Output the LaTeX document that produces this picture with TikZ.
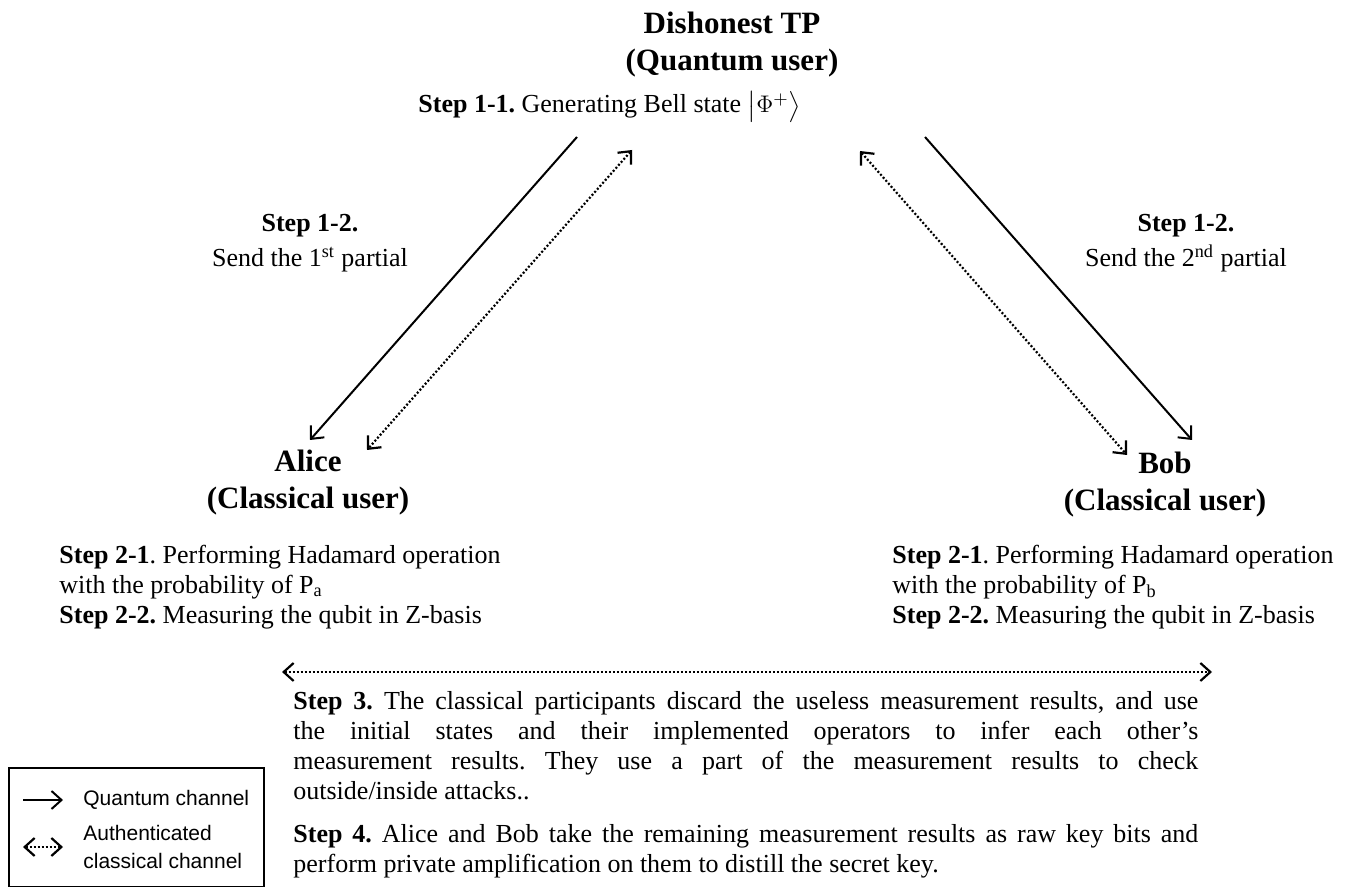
\documentclass[tikz,border=0pt]{standalone}
\usepackage{fontspec}
\setmainfont{Liberation Serif}
\newfontfamily\legendfont{Liberation Sans}
\usepackage{amssymb,amsmath}
\usetikzlibrary{arrows.meta}
\frenchspacing

\begin{document}
\begin{tikzpicture}
[x=0.5pt,y=-0.5pt,
quan/.style={-{Straight Barb[length=5pt,width=9pt]},draw=black,line width=1pt},
clas/.style={{Straight Barb[length=5pt,width=9pt]}-{Straight Barb[length=5pt,width=9pt]},draw=black,line width=1.1pt,dash pattern=on 1pt off 1pt},
party/.style={align=center,font=\fontsize{15.5}{18.5}\selectfont\bfseries,inner sep=0pt},
desc/.style={align=left,font=\fontsize{13}{15}\selectfont,inner sep=0pt},
lbl/.style={align=center,font=\fontsize{13}{17.5}\selectfont,inner sep=0pt},
leg/.style={align=left,font=\legendfont\fontsize{10.5}{14}\selectfont,inner sep=0pt}]

\useasboundingbox (0,0) rectangle (1365,887);

\node at (732,45)  [party] (tp)    {Dishonest TP\\(Quantum user)};
\node at (418,107) [desc,anchor=west] (gen) {\textbf{Step 1-1.} Generating Bell state $\bigl|\Phi^{+}\bigr\rangle$};
\node at (310,243) [lbl] (snda)    {\textbf{Step 1-2.}\\Send the 1\textsuperscript{st} partial};
\node at (1186,243) [lbl] (sndb)   {\textbf{Step 1-2.}\\Send the 2\textsuperscript{nd} partial};
\node at (308,483) [party] (alice) {Alice\\(Classical user)};
\node at (1165,485) [party] (bob)  {Bob\\(Classical user)};
\node at (59,587)  [desc,anchor=west] (opa) {\textbf{Step 2-1}. Performing Hadamard operation\\with the probability of P\textsubscript{a}\\\textbf{Step 2-2.} Measuring the qubit in Z-basis};
\node at (892,587) [desc,anchor=west] (opb) {\textbf{Step 2-1}. Performing Hadamard operation\\with the probability of P\textsubscript{b}\\\textbf{Step 2-2.} Measuring the qubit in Z-basis};

\coordinate (qa0) at (577,137);
\coordinate (qa1) at (310,440);
\coordinate (ca0) at (632,150);
\coordinate (ca1) at (367,450);
\coordinate (cb0) at (860,151);
\coordinate (cb1) at (1127,455);
\coordinate (qb0) at (925,137);
\coordinate (qb1) at (1192,440);
\draw [quan] (qa0) to (qa1);
\draw [clas] (ca0) to (ca1);
\draw [clas] (cb0) to (cb1);
\draw [quan] (qb0) to (qb1);

\coordinate (hl) at (282,672);
\coordinate (hr) at (1212,672);
\draw [clas] (hl) to (hr);

\node at (293,691) [anchor=north west,text width=452.5pt,align=justify,font=\fontsize{13}{15}\selectfont,inner sep=0pt] (chk)
 {\textbf{Step 3.} The classical participants discard the useless measurement results, and use\linebreak
 the initial states and their implemented operators to infer each other’s\linebreak
 measurement results. They use a part of the measurement results to check\linebreak
 outside/inside attacks..\par\vspace{6.5pt}
 \textbf{Step 4.} Alice and Bob take the remaining measurement results as raw key bits and\linebreak
 perform private amplification on them to distill the secret key.};

\node at (8,767) [draw=black,line width=1pt,anchor=north west,minimum width=127.5pt,minimum height=59.5pt,inner sep=0pt] (legbox) {};
\coordinate (lq0) at (23,800);
\coordinate (lq1) at (63,800);
\coordinate (lc0) at (23,847);
\coordinate (lc1) at (63,847);
\draw [quan] (lq0) to (lq1);
\draw [clas] (lc0) to (lc1);
\node at (83,800) [leg,anchor=west] (lqt) {Quantum channel};
\node at (83,847) [leg,anchor=west] (lct) {Authenticated\\classical channel};
\end{tikzpicture}
\end{document}
